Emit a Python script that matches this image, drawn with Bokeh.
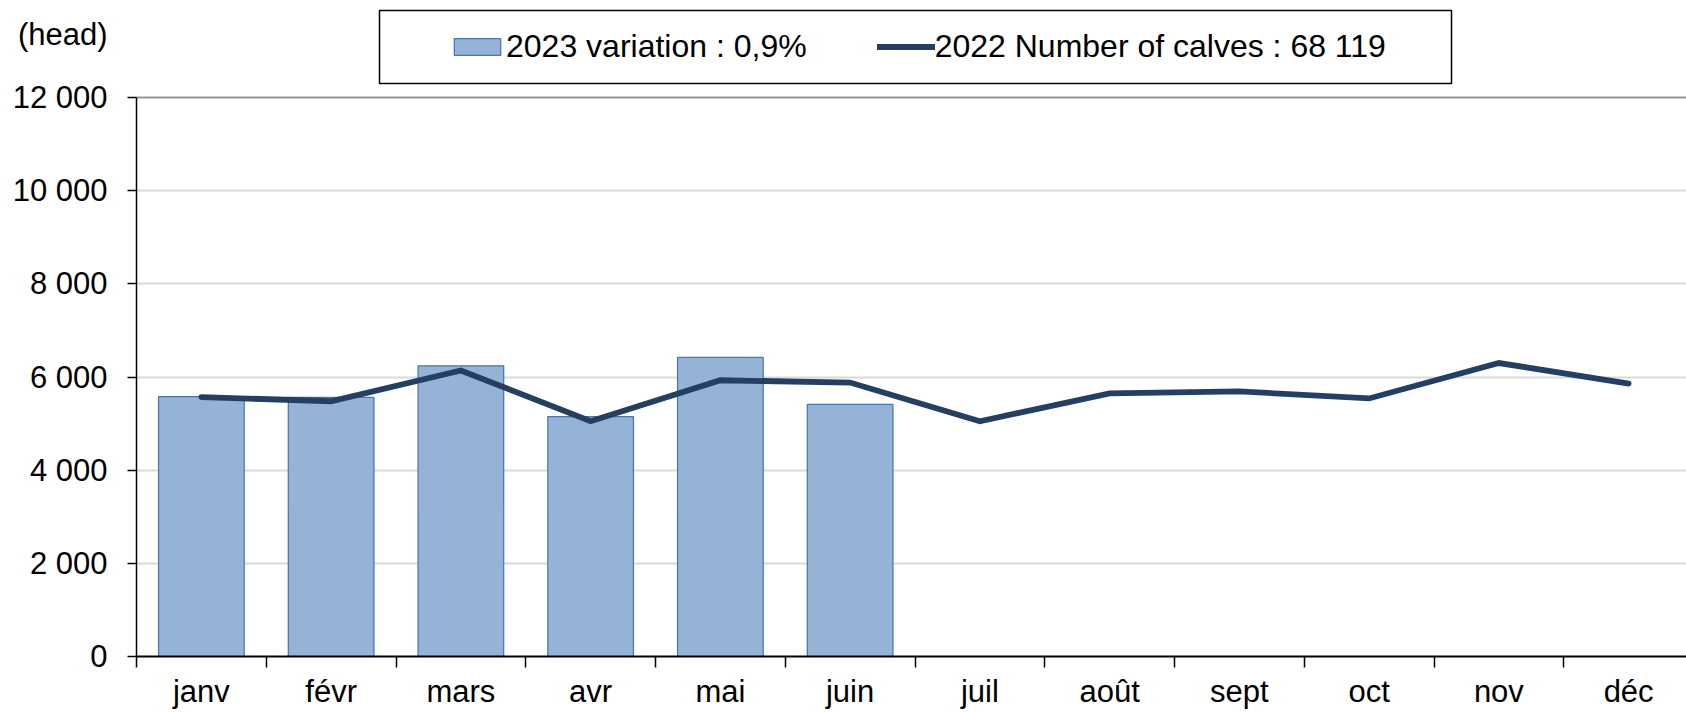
from bokeh.plotting import figure
from bokeh.models import (Range1d, FixedTicker, Legend, LegendItem, BoxAnnotation,
                          LinearAxis, Grid)
from bokeh.embed import file_html
from bokeh.resources import INLINE

# ---- data ----
months = ["janv", "févr", "mars", "avr", "mai", "juin",
          "juil", "août", "sept", "oct", "nov", "déc"]
calves_2023 = [5580, 5560, 6240, 5150, 6420, 5410]
calves_2022 = [5570, 5480, 6140, 5050, 5930, 5880,
               5050, 5650, 5690, 5540, 6300, 5860]
y_tick_values = [0, 2000, 4000, 6000, 8000, 10000, 12000]
y_tick_labels = ["0", "2 000", "4 000", "6 000", "8 000", "10 000", "12 000"]
label_2023 = "2023 variation : 0,9%"
label_2022 = "2022 Number of calves : 68 119"
unit_label = "(head)"

FONT = "Liberation Sans"
FS = "31px"
LFS = "32px"

# ---- layout geometry (pixels) ----
W, H = 1686, 712
FRAME_LEFT, FRAME_BOTTOM_PX = 136, 656     # frame spans 0..656 vertically
Y_MAX_PX = 97                               # pixel row of the 12 000 line
frame_h = FRAME_BOTTOM_PX
y_top = y_tick_values[-1] * frame_h / (FRAME_BOTTOM_PX - Y_MAX_PX)
cat_px = 129.75
x_end = (W - FRAME_LEFT) / cat_px
head_y = y_tick_values[-1] * (FRAME_BOTTOM_PX - 34) / (FRAME_BOTTOM_PX - Y_MAX_PX)

x_pos = [i + 0.5 for i in range(len(months))]

p = figure(width=W, height=H,
           x_range=Range1d(0, x_end), y_range=Range1d(0, y_top),
           output_backend="svg", toolbar_location=None,
           y_axis_location=None,
           min_border_left=FRAME_LEFT, min_border_right=0,
           min_border_top=0, min_border_bottom=H - FRAME_BOTTOM_PX)
p.title.visible = False
p.outline_line_color = None
p.background_fill_color = "white"
p.border_fill_color = "white"
p.xgrid.visible = False
p.ygrid.visible = False

# horizontal grid lines
p.add_layout(Grid(dimension=1, ticker=FixedTicker(ticks=y_tick_values[:-1]),
                  grid_line_color="#D9D9D9", grid_line_width=2))
# plot-area top border (darker)
p.add_layout(Grid(dimension=1, ticker=FixedTicker(ticks=[y_tick_values[-1]]),
                  grid_line_color="#969696", grid_line_width=2))

# y axis line + tick marks (0..12 000)
ya = LinearAxis(ticker=FixedTicker(ticks=y_tick_values), bounds=(0, y_tick_values[-1]))
ya.major_label_overrides = {v: "" for v in y_tick_values}
ya.axis_line_color = "black"
ya.axis_line_width = 1.5
ya.major_tick_out = 9
ya.major_tick_in = 0
ya.major_tick_line_width = 1.5
ya.minor_tick_line_color = None
ya.major_label_standoff = 0
ya.major_label_text_font_size = "1px"
p.add_layout(ya, "left")

# y tick labels + unit label
overrides = {v: l for v, l in zip(y_tick_values, y_tick_labels)}
overrides[head_y] = unit_label
yl = LinearAxis(ticker=FixedTicker(ticks=y_tick_values + [head_y]))
yl.major_label_overrides = overrides
yl.axis_line_color = None
yl.major_tick_line_color = None
yl.major_tick_out = 0
yl.major_tick_in = 0
yl.minor_tick_line_color = None
yl.major_label_standoff = 20
yl.major_label_text_font = FONT
yl.major_label_text_font_size = FS
yl.major_label_text_color = "black"
p.add_layout(yl, "left")

# x axis
xa = p.xaxis[0]
xa.ticker = FixedTicker(ticks=x_pos, minor_ticks=list(range(len(months) + 1)))
xa.major_label_overrides = {v: m for v, m in zip(x_pos, months)}
xa.axis_line_color = "black"
xa.axis_line_width = 2
xa.major_tick_out = 0
xa.major_tick_in = 0
xa.minor_tick_out = 11
xa.minor_tick_in = 0
xa.minor_tick_line_color = "black"
xa.minor_tick_line_width = 1.5
xa.major_label_standoff = 6
xa.major_label_text_font = FONT
xa.major_label_text_font_size = FS
xa.major_label_text_color = "black"

bars = p.vbar(x=x_pos[:len(calves_2023)], top=calves_2023, width=0.66,
              fill_color="#95B3D7", line_color="#4A76AA", line_width=1.25)
line = p.line(x=x_pos, y=calves_2022, line_color="#253F62", line_width=5.8,
              line_cap="round", line_join="miter")

# legend border box (screen units relative to frame)
box = BoxAnnotation(left=243, right=1315, bottom=573, top=646,
                    left_units="screen", right_units="screen",
                    bottom_units="screen", top_units="screen",
                    fill_color="white", fill_alpha=1.0,
                    line_color="black", line_width=1.5, line_alpha=1.0)
p.add_layout(box)

legend = Legend(items=[LegendItem(label=label_2023, renderers=[bars]),
                       LegendItem(label=label_2022, renderers=[line])],
                orientation="horizontal", location=(302, 581),
                border_line_alpha=0, background_fill_alpha=0,
                glyph_width=58, glyph_height=21, label_standoff=0,
                spacing=70, padding=10, margin=0,
                label_text_font=FONT, label_text_font_size=LFS,
                label_text_color="black")
p.add_layout(legend)

open("out.html", "w").write(file_html(p, INLINE))
